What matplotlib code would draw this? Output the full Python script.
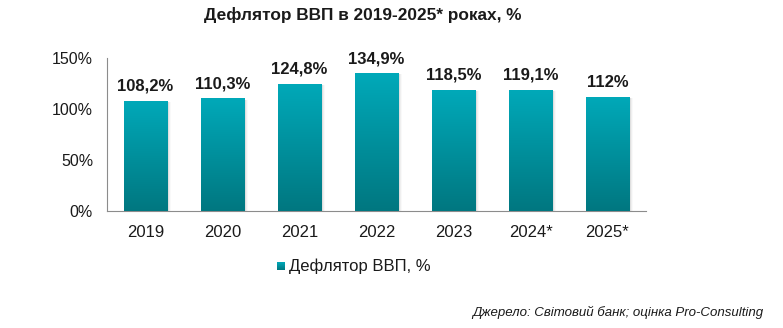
import numpy as np
import matplotlib.pyplot as plt
from matplotlib.colors import LinearSegmentedColormap
from matplotlib.patches import Rectangle

plt.rcParams['font.family'] = ['Liberation Sans', 'DejaVu Sans']

# дефлятор ВВП, %
years = ['2019', '2020', '2021', '2022', '2023', '2024*', '2025*']
values = [108.2, 110.3, 124.8, 134.9, 118.5, 119.1, 112.0]
labels = ['108,2%', '110,3%', '124,8%', '134,9%', '118,5%', '119,1%', '112%']

fig = plt.figure(figsize=(7.83, 3.28), dpi=100)
ax = fig.add_axes([107/783, 117/328, 539/783, 153/328])

x = np.arange(len(years))
w = 0.57
grad = LinearSegmentedColormap.from_list('teal', ['#007780', '#00A9B9'])
gimg = np.linspace(0, 1, 256).reshape(-1, 1)

bars = ax.bar(x, values, width=w, color='#0093A0', zorder=3)
for b in bars:
    x0, y0 = b.get_x(), b.get_y()
    bw, bh = b.get_width(), b.get_height()
    # легка тінь праворуч
    for i, a in enumerate([0.10, 0.06, 0.03]):
        ax.add_patch(Rectangle((x0 + 0.015 * (i + 1), y0), bw, bh - 1,
                               color='#555555', alpha=a, lw=0, zorder=2))
    b.set_facecolor('none')
    im = ax.imshow(gimg, cmap=grad, aspect='auto', origin='lower',
                   extent=[x0, x0 + bw, y0, y0 + bh], zorder=3)
    im.set_clip_path(b)

for xi, v, lab in zip(x, values, labels):
    ax.text(xi, v + 7, lab, ha='center', va='bottom', fontsize=12,
            fontweight='bold', color='#1a1a1a', zorder=4)

ax.set_xlim(-0.5, len(years) - 0.5)
ax.set_ylim(0, 150)
ax.set_yticks([0, 50, 100, 150])
ax.set_yticklabels(['0%', '50%', '100%', '150%'])
ax.set_xticks(x)
ax.set_xticklabels(years)
ax.tick_params(axis='both', length=0, colors='#1a1a1a')
ax.tick_params(axis='y', pad=10, labelsize=11.5)
ax.tick_params(axis='x', pad=10, labelsize=12)
for s in ['top', 'right']:
    ax.spines[s].set_visible(False)
ax.spines['left'].set_color('#8c8c8c')
ax.spines['bottom'].set_color('#8c8c8c')

fig.text(363/783, 1 - 15/328, 'Дефлятор ВВП в 2019-2025* роках, %', ha='center',
         va='center', fontsize=12.4, fontweight='bold', color='#1a1a1a')

# легенда
lx, ly = 281/783, 1 - 266/328
lm = fig.add_axes([lx - 4/783, ly - 4/328, 8/783, 8/328])
lm.imshow(gimg, cmap=grad, aspect='auto', origin='lower', extent=[0, 1, 0, 1])
lm.axis('off')
fig.text(lx + 8/783, ly, 'Дефлятор ВВП, %', ha='left', va='center',
         fontsize=12, color='#1a1a1a')

fig.text(763/783, 1 - 312/328, 'Джерело: Світовий банк; оцінка Pro-Consulting',
         ha='right', va='center', fontsize=9.5, style='italic', color='#1a1a1a')

plt.savefig('out.png', dpi=100)
